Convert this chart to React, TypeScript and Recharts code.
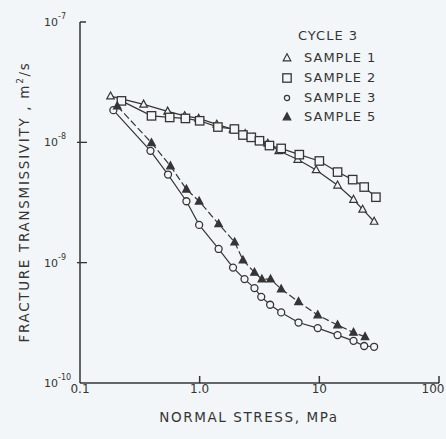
import { ScatterChart, Scatter, XAxis, YAxis, Label } from 'recharts';

// normal stress (MPa) and fracture transmissivity (m^2/s), cycle 3
const stress1 = [0.18, 0.34, 0.54, 0.75, 0.98, 1.39, 1.9, 2.4, 2.82, 3.71, 4.58, 6.6, 9.4, 14.2, 19.3, 23, 28.7];
const trans1 = [2.42e-8, 2.07e-8, 1.81e-8, 1.66e-8, 1.58e-8, 1.41e-8, 1.28e-8, 1.18e-8, 1.09e-8, 9.8e-9, 8.5e-9, 7.2e-9, 5.9e-9, 4.4e-9, 3.35e-9, 2.77e-9, 2.2e-9];

const stress2 = [0.222, 0.396, 0.562, 0.76, 1.0, 1.42, 1.95, 2.3, 2.7, 3.16, 3.83, 4.8, 6.8, 10, 14.2, 19, 23.7, 29.7];
const trans2 = [2.21e-8, 1.66e-8, 1.61e-8, 1.58e-8, 1.51e-8, 1.34e-8, 1.29e-8, 1.15e-8, 1.1e-8, 1.03e-8, 9.4e-9, 8.9e-9, 7.9e-9, 7.0e-9, 5.66e-9, 4.9e-9, 4.25e-9, 3.5e-9];

const stress3 = [0.19, 0.388, 0.544, 0.775, 0.99, 1.44, 1.9, 2.37, 2.87, 3.27, 3.88, 4.8, 6.7, 9.7, 14.2, 19.3, 23.7, 28.7];
const trans3 = [1.85e-8, 8.5e-9, 5.4e-9, 3.24e-9, 2.06e-9, 1.3e-9, 9.1e-10, 7.3e-10, 6.15e-10, 5.2e-10, 4.47e-10, 3.86e-10, 3.18e-10, 2.86e-10, 2.5e-10, 2.24e-10, 2.03e-10, 2.0e-10];

const stress5 = [0.205, 0.396, 0.57, 0.775, 0.99, 1.44, 1.96, 2.3, 2.87, 3.31, 3.91, 4.8, 6.7, 9.7, 14.2, 19.3, 24.1];
const trans5 = [2.0e-8, 9.9e-9, 6.35e-9, 4.07e-9, 3.24e-9, 2.1e-9, 1.48e-9, 1.05e-9, 8.3e-10, 7.3e-10, 7.3e-10, 6.03e-10, 4.73e-10, 3.67e-10, 3.03e-10, 2.63e-10, 2.42e-10];

const xTicks = [0.1, 1, 10, 100];
const xTickLabels = ['0.1', '1.0', '10', '100'];
const yTicks = [1e-10, 1e-9, 1e-8, 1e-7];
const yTickExp = ['-10', '-9', '-8', '-7'];

const legendItems = ['SAMPLE 1', 'SAMPLE 2', 'SAMPLE 3', 'SAMPLE 5'];

const zip = (xs: number[], ys: number[]) => xs.map((x, i) => ({ x, y: ys[i] }));

const INK = '#353535';
const BG = '#f3f6f8';
const FONT = '"DejaVu Sans", sans-serif';

function Marker({ kind, cx, cy }: { kind: string; cx: number; cy: number }) {
  if (kind === 'tri' || kind === 'triFill') {
    const h = 7;
    const pts = `${cx},${cy - h * 0.6} ${cx - 3.8},${cy + h * 0.4} ${cx + 3.8},${cy + h * 0.4}`;
    return <polygon points={pts} fill={kind === 'triFill' ? INK : BG} stroke={INK} strokeWidth={1.2} />;
  }
  if (kind === 'sq') {
    return <rect x={cx - 4.2} y={cy - 4.2} width={8.4} height={8.4} fill={BG} stroke={INK} strokeWidth={1.3} />;
  }
  return <circle cx={cx} cy={cy} r={3.5} fill={BG} stroke={INK} strokeWidth={1.3} />;
}

const shapeFor = (kind: string) => (props: any) => <Marker kind={kind} cx={props.cx} cy={props.cy} />;

const XTick = (props: any) => {
  const { x, y, payload } = props;
  const i = xTicks.indexOf(payload.value);
  // the last label sits against the right edge, keep it inside the picture
  const tx = i === 3 ? Math.min(x, 433) : x;
  return (
    <g>
      {i > 0 && <line x1={x} y1={y} x2={x} y2={y - 7} stroke={INK} strokeWidth={1.5} />}
      <text x={tx} y={y + 10} textAnchor="middle" fontSize={12} fill={INK} fontFamily={FONT}>
        {xTickLabels[i]}
      </text>
    </g>
  );
};

const YTick = (props: any) => {
  const { x, y, payload } = props;
  const i = yTicks.findIndex((t) => Math.abs(Math.log10(t) - Math.log10(payload.value)) < 1e-6);
  return (
    <g>
      {i === 3 && <line x1={x} y1={y} x2={x + 6} y2={y} stroke={INK} strokeWidth={1.5} />}
      {i === 1 || i === 2 ? <line x1={x - 3} y1={y} x2={x + 7} y2={y} stroke={INK} strokeWidth={1.3} /> : null}
      <text x={x - 22} y={y + 4} textAnchor="end" fontSize={11} fill={INK} fontFamily={FONT}>
        10
      </text>
      <text x={x - 22} y={y - 3} textAnchor="start" fontSize={8} fill={INK} fontFamily={FONT}>
        {yTickExp[i]}
      </text>
    </g>
  );
};

function LegendBox() {
  const kinds = ['tri', 'sq', 'circ', 'triFill'];
  return (
    <div style={{ position: 'absolute', left: 280, top: 28, fontFamily: FONT, fontSize: 13, color: INK, letterSpacing: 1 }}>
      <div style={{ marginLeft: 18, height: 20 }}>CYCLE 3</div>
      {legendItems.map((name, i) => (
        <div key={name} style={{ display: 'flex', alignItems: 'center', height: 19.7 }}>
          <svg width={14} height={14} style={{ marginRight: 10 }}>
            {kinds[i] === 'circ' ? (
              <circle cx={7} cy={8} r={2.6} fill={BG} stroke={INK} strokeWidth={1.2} />
            ) : (
              <Marker kind={kinds[i]} cx={7} cy={7} />
            )}
          </svg>
          <span>{name}</span>
        </div>
      ))}
    </div>
  );
}

export default function App() {
  return (
    <div style={{ position: 'absolute', left: 0, top: 0, width: 446, height: 439, background: BG }}>
      <ScatterChart width={446} height={439} margin={{ top: 22, right: 7, bottom: 0, left: 0 }}>
        <XAxis
          type="number"
          dataKey="x"
          scale="log"
          domain={[0.1, 100]}
          ticks={xTicks}
          tick={<XTick />}
          tickLine={false}
          tickSize={0}
          tickMargin={0}
          height={56}
          stroke={INK}
          strokeWidth={1.5}
          interval={0}
        >
          <Label
            content={() => (
              <text x={249} y={422} textAnchor="middle" fontSize={13.5} fill={INK} fontFamily={FONT} letterSpacing={1.6}>
                NORMAL  STRESS, MPa
              </text>
            )}
          />
        </XAxis>
        <YAxis
          type="number"
          dataKey="y"
          scale="log"
          domain={[1e-10, 1e-7]}
          ticks={yTicks}
          tick={<YTick />}
          tickLine={false}
          tickSize={0}
          tickMargin={0}
          width={80}
          stroke={INK}
          strokeWidth={1.5}
          interval={0}
        >
          <Label
            content={() => (
              <text
                x={29}
                y={202}
                transform="rotate(-90 29 202)"
                textAnchor="middle"
                fontSize={13.5}
                fill={INK}
                fontFamily={FONT}
                letterSpacing={1.7}
              >
                FRACTURE  TRANSMISSIVITY , m<tspan dy={-6} fontSize={9}>2</tspan>
                <tspan dy={6}>/s</tspan>
              </text>
            )}
          />
        </YAxis>
        <Scatter data={zip(stress1, trans1)} line={{ stroke: INK, strokeWidth: 1.2 }} lineType="joint" shape={shapeFor('tri')} isAnimationActive={false} />
        <Scatter data={zip(stress2, trans2)} line={{ stroke: INK, strokeWidth: 1.2 }} lineType="joint" shape={shapeFor('sq')} isAnimationActive={false} />
        <Scatter data={zip(stress3, trans3)} line={{ stroke: INK, strokeWidth: 1.2 }} lineType="joint" shape={shapeFor('circ')} isAnimationActive={false} />
        <Scatter
          data={zip(stress5, trans5)}
          line={{ stroke: INK, strokeWidth: 1.2, strokeDasharray: '7 3' }}
          lineType="joint"
          shape={shapeFor('triFill')}
          isAnimationActive={false}
        />
      </ScatterChart>
      <LegendBox />
    </div>
  );
}
